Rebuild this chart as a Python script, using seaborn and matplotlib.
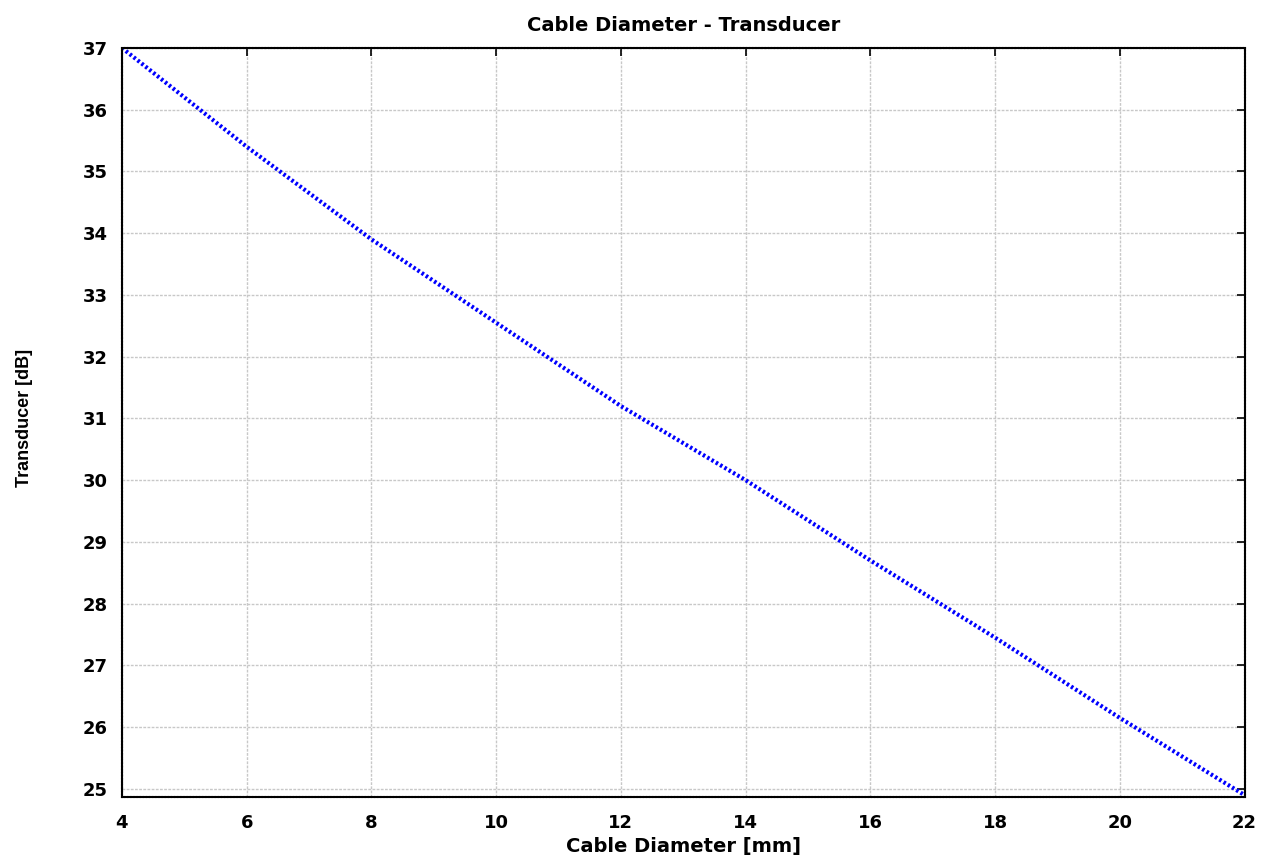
import numpy as np
import pandas as pd
import matplotlib
matplotlib.use('Agg')
import matplotlib.pyplot as plt
import seaborn as sns

# ── Data ─────────────────────────────────────────────────────
diameter_mm = [4, 6, 8, 10, 12, 14, 16, 18, 20, 22]
transducer_db = [37.0, 35.4, 33.9, 32.55, 31.2, 30.0, 28.7, 27.45, 26.15, 24.9]
x_ticks = [4, 6, 8, 10, 12, 14, 16, 18, 20, 22]
y_ticks = [25, 26, 27, 28, 29, 30, 31, 32, 33, 34, 35, 36, 37]

df = pd.DataFrame({'diameter': diameter_mm, 'transducer': transducer_db})

sns.set_style('white')
plt.rcParams['font.family'] = ['DejaVu Sans']
plt.rcParams['font.weight'] = 'bold'
plt.rcParams['text.color'] = 'black'
plt.rcParams['axes.labelcolor'] = 'black'

fig = plt.figure(figsize=(12.7, 8.63), dpi=100)
ax = fig.add_axes([0.096, 0.0765, 0.884, 0.868])

sns.lineplot(data=df, x='diameter', y='transducer', ax=ax,
             color='#0000ff', linewidth=3, linestyle=(0, (0.6, 0.6)))

ax.set_xlim(4, 22)
ax.set_ylim(24.87, 37)
ax.set_xticks(x_ticks)
ax.set_yticks(y_ticks)
ax.grid(True, color='#c8c8c8', linestyle=(0, (2, 1)), linewidth=1)
ax.tick_params(direction='in', length=6, width=1.2, top=True, right=True,
               labelsize=13, colors='black')
ax.tick_params(axis='x', pad=12)
ax.tick_params(axis='y', pad=10)
for lbl in ax.get_xticklabels() + ax.get_yticklabels():
    lbl.set_fontweight('bold')
for sp in ax.spines.values():
    sp.set_color('black')
    sp.set_linewidth(1.5)
    sp.set_linestyle((0, (1, 0.5)))

ax.set_title('Cable Diameter - Transducer', fontsize=14, fontweight='bold', pad=12)
ax.set_xlabel('Cable Diameter [mm]', fontsize=14, fontweight='bold', labelpad=4)
ax.set_ylabel('Transducer [dB]', fontsize=13, fontweight='bold',
              family=['Liberation Sans', 'DejaVu Sans'])
ax.yaxis.set_label_coords(-0.079, 0.506)

fig.savefig('out.png', dpi=100)
